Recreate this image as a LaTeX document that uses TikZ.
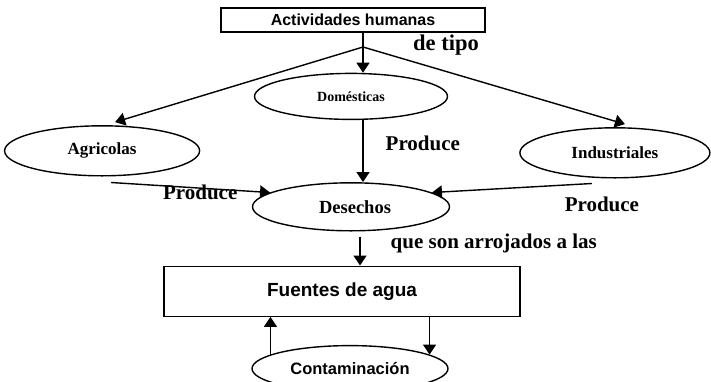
\documentclass[tikz,border=0pt]{standalone}
\usepackage{fontspec}
\setmainfont{Liberation Serif}
\setsansfont{Liberation Sans}
\usetikzlibrary{
	arrows.meta,
	shapes.geometric,
	positioning
}
\tikzset{
%Define standard arrow tip
>={Triangle[length=10pt,width=13pt]},
%Define style for boxes
caja/.style={
	rectangle,
	draw=black, line width=1.4pt,
	inner sep=0pt,
	font=\sffamily\bfseries\fontsize{16}{18}\selectfont},
%Define style for ellipses
elipse/.style={
	ellipse,
	draw=black, line width=1.4pt,
	inner sep=0pt,
	font=\bfseries\fontsize{17}{19}\selectfont},
% Define arrow style
linea/.style={
	line width=1.4pt},
flecha/.style={
	->,
	line width=1.4pt},
% Define label style
etiqueta/.style={
	inner sep=0pt,
	font=\bfseries\fontsize{21}{24}\selectfont}
}
\begin{document}
\begin{tikzpicture}[x=1pt,y=1pt]
				\useasboundingbox (0,0) rectangle (711,-381);
				\node[caja, minimum width=264pt, minimum height=24pt] (act) at (353,-20) {Actividades humanas};
				\coordinate (split) at (363,-47);
				\node[elipse, minimum width=193pt, minimum height=46pt, below=40pt of act, xshift=-2pt, font=\bfseries\fontsize{14}{16}\selectfont] (dom) {Domésticas};
				\node[elipse, minimum width=197pt, minimum height=48pt, below=62pt of dom, font=\bfseries\fontsize{18.5}{20}\selectfont] (des) {\hspace*{8pt}Desechos};
				\node[elipse, minimum width=195pt, minimum height=50pt, left=51.5pt of des, yshift=56pt] (agr) {Agricolas};
				\node[elipse, minimum width=190pt, minimum height=50pt, right=69pt of des, yshift=54pt] (ind) {Industriales};
				\node[caja, minimum width=356pt, minimum height=50pt, below=34pt of des, xshift=-9pt, font=\sffamily\bfseries\fontsize{19}{21}\selectfont] (fue) {Fuentes de agua};
				\node[elipse, minimum width=196pt, minimum height=46pt, below=28pt of fue, xshift=8pt, font=\sffamily\bfseries\fontsize{16.5}{18}\selectfont] (con) {Contaminación};
				\node[etiqueta, right=50pt of split, yshift=2pt, font=\bfseries\fontsize{22.5}{25}\selectfont] (tipo) {de tipo};
				\coordinate (bajada) at ([xshift=9pt,yshift=-5pt]des.south);
				\draw[linea] (split |- act.south) -- (split);
				\draw[flecha] (split) -- (split |- dom.north);
				\draw[flecha] (split) -- ([xshift=13pt,yshift=3pt]agr.north);
				\draw[flecha] (split) -- ([xshift=10pt,yshift=3pt]ind.north);
				\draw[flecha] (dom.south -| split) -- node[etiqueta, pos=0.37, right=22pt] {Produce} (des.north -| split);
				\draw[flecha] ([xshift=9pt,yshift=-6pt]agr.south) -- node[etiqueta, pos=1, left=32pt] {Produce} (des.170);
				\draw[flecha] ([xshift=-23pt,yshift=-5pt]ind.south) -- node[etiqueta, pos=0, below=13pt, xshift=10pt] {Produce} (des.10);
				\draw[flecha] (bajada) -- node[etiqueta, pos=0.24, right=30pt] {que son arrojados a las} (bajada |- fue.north);
				\draw[flecha] (con.170) -- (con.170 |- fue.south);
				\draw[flecha] (fue.south -| con.10) -- (con.10);
			\end{tikzpicture}
\end{document}
